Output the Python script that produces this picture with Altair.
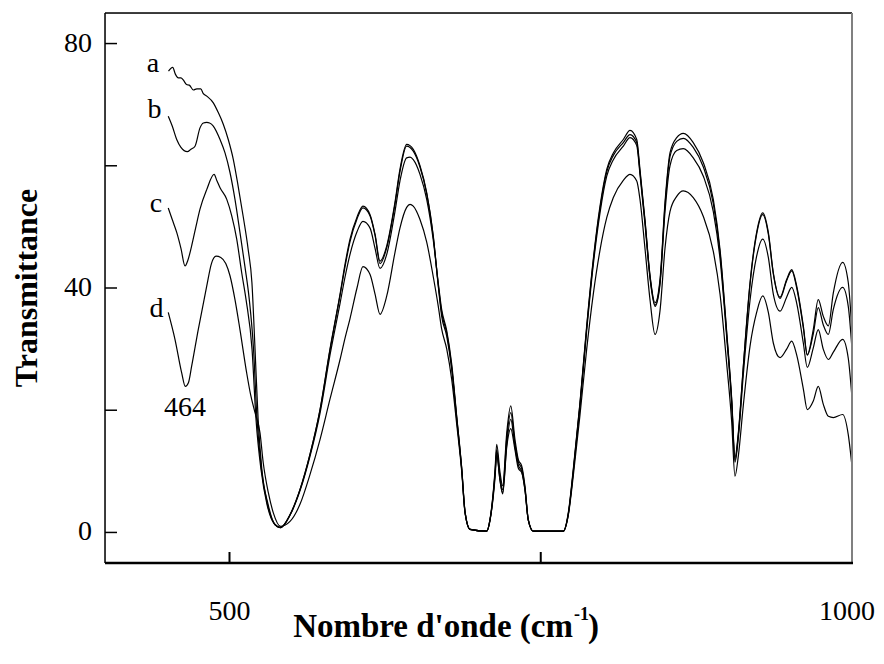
import altair as alt
import pandas as pd

# ---- data ----
series_names = ["a", "b", "c", "d"]

a_left_x = [451, 454.4, 456.5, 458.9, 461, 463, 465.5, 467.7, 471, 473.7, 476.9, 479, 481.7, 487, 491, 495, 499, 503, 507, 511, 515, 518, 520.5, 523, 526, 531, 536.5]
a_left_y = [75.5, 76.1, 75.0, 74.4, 74.4, 74.0, 73.3, 73.2, 72.4, 72.6, 72.6, 71.8, 71.4, 70.3, 68.7, 66.8, 64.3, 61.1, 56.6, 51.7, 46.3, 40.9, 30.0, 18.5, 10.3, 4.6, 1.3]

b_left_x = [450.8, 454, 457.6, 461, 466.1, 469, 472.3, 476.3, 479, 481.7, 484, 487, 492.4, 496.4, 500.4, 504.4, 508.4, 512.4, 515.9, 519.3, 522.1, 525.7, 530.5, 536.5]
b_left_y = [68.1, 66.5, 64.3, 63.0, 62.3, 62.7, 63.2, 66.2, 67.0, 67.1, 67.0, 66.5, 64.3, 62.1, 58.9, 54.5, 49.1, 43.5, 38.1, 30.0, 18.5, 10.3, 4.6, 1.3]

c_left_x = [450.8, 454, 457.6, 461, 464.3, 466.5, 469.6, 473, 476.3, 481.7, 487.6, 490, 492.4, 497.8, 501.8, 505.8, 509.8, 513.3, 518.1, 521.3, 525.3, 530.1, 535.7]
c_left_y = [53.1, 51.2, 49.1, 46.5, 43.6, 44.5, 46.9, 50.0, 52.9, 56.1, 58.6, 57.5, 56.4, 54.5, 51.8, 48.0, 42.5, 38.1, 30.0, 18.5, 10.3, 4.6, 1.5]

d_left_x = [450.8, 456.2, 461.6, 464.5, 467, 469.6, 474.9, 481.7, 485.5, 489.2, 493, 497, 500.4, 504.4, 508.4, 513.8, 517, 520.5, 524.5, 527.1, 531.2, 535.2]
d_left_y = [36.0, 31.6, 26.1, 23.9, 24.5, 27.2, 33.2, 40.3, 44.0, 45.2, 45.0, 44.0, 42.0, 38.1, 33.2, 26.1, 22.5, 19.6, 16.3, 11.4, 6.5, 3.2]

# common wavenumber grid for the rest of the spectrum
common_x = [541, 548.6, 556.6, 564.7, 572.7, 580.7, 588.8, 592.8, 596.8, 602.4, 607.2, 612.9, 616.9, 620.9, 626.3,
            632.9, 636.9, 642.3, 645.0, 647.6, 653.0, 658.4, 663.7, 667.7, 670.4, 674.5, 678.5, 682.5, 686.5, 689.2,
            693.2, 706.6, 709.2, 713.3, 714.6, 717.3, 719.4, 722.7, 725.9, 729.3, 732.0, 734.7, 737.3, 740.0, 744.0,
            768.1, 772.1, 776.1, 781.5, 786.9, 792.2, 797.6, 803.0, 808.3, 816.3, 821.7, 827.1, 829.7, 833.7, 837.8,
            841.8, 845.8, 849.8, 853.8, 859.2, 864.5, 872.5, 880.6, 888.6, 894.0, 899.4, 903.4, 906.0, 908.7, 912.7,
            918.1, 923.4, 928.3, 932.8, 936.8, 942.2, 947.5, 951.6, 955.6, 960.9, 964.1, 968.9, 972.9, 976.9, 981.0,
            985.0, 992.5, 997.0, 1000]

a_right_y = [0.8, 2.9, 7.0, 12.8, 20.1, 30.0, 39.0, 43.9, 48.0, 51.6, 53.4, 52.0, 48.8, 44.4, 46.9,
             54.0, 59.4, 63.5, 63.3, 62.7, 60.0, 55.6, 48.5, 40.3, 35.4, 32.1, 26.7, 18.5, 10.3, 3.2,
             0.5, 0.2, 2.1, 10.3, 14.4, 9.8, 7.6, 16.3, 20.7, 15.2, 11.9, 10.9, 7.6, 2.1, 0.2,
             0.2, 3.2, 10.3, 21.2, 33.8, 44.7, 53.4, 59.4, 62.1, 64.3, 65.8, 64.3, 59.4, 51.2, 42.0,
             37.6, 41.4, 54.0, 62.1, 64.6, 65.3, 63.8, 60.5, 54.5, 46.3, 32.7, 21.8, 12.3, 16.3, 27.2,
             40.9, 49.1, 52.3, 49.1, 42.5, 38.5, 41.4, 43.0, 40.3, 33.8, 29.1, 33.2, 38.1, 35.4, 33.8,
             39.2, 44.2, 40.9, 32.7]
b_right_y = [0.8, 2.9, 7.0, 12.8, 20.0, 29.8, 38.8, 43.5, 47.6, 51.3, 53.1, 51.8, 48.6, 44.0, 46.6,
             53.7, 59.0, 63.2, 63.0, 62.4, 59.8, 55.4, 48.3, 40.5, 36.0, 32.6, 27.0, 18.8, 10.5, 3.3,
             0.5, 0.2, 2.0, 9.8, 13.5, 9.0, 7.0, 15.5, 19.6, 14.5, 11.5, 10.5, 7.3, 2.0, 0.2,
             0.2, 3.0, 10.0, 21.0, 33.5, 44.4, 53.0, 59.0, 61.7, 63.8, 65.1, 63.8, 59.0, 51.0, 41.8,
             37.2, 41.0, 53.5, 61.5, 64.0, 64.5, 63.0, 59.8, 53.8, 45.8, 32.4, 21.5, 11.8, 16.0, 27.0,
             40.6, 48.8, 52.0, 48.8, 42.3, 38.3, 41.2, 42.8, 40.0, 33.5, 29.0, 32.5, 36.8, 34.0, 32.4,
             36.5, 40.1, 37.0, 30.0]
c_right_y = [0.8, 2.8, 6.8, 12.5, 19.5, 29.0, 37.5, 41.8, 45.5, 49.2, 50.9, 49.8, 46.5, 43.2, 45.5,
             52.5, 57.5, 61.3, 61.4, 61.0, 58.6, 54.5, 47.8, 40.8, 36.5, 33.0, 27.5, 19.0, 10.6, 3.4,
             0.5, 0.2, 1.9, 9.5, 13.0, 8.5, 6.5, 14.5, 18.5, 14.0, 11.0, 10.0, 7.0, 2.0, 0.2,
             0.2, 2.9, 9.8, 20.6, 33.0, 43.8, 52.3, 58.3, 61.0, 63.2, 64.6, 63.3, 58.6, 50.5, 41.5,
             37.0, 40.6, 52.5, 60.0, 62.5, 62.8, 61.3, 58.3, 52.5, 44.8, 31.8, 21.0, 11.5, 15.5, 25.8,
             38.0, 45.2, 48.0, 45.0, 39.0, 36.2, 38.5, 40.1, 37.5, 31.0, 27.0, 30.2, 33.2, 30.0, 28.3,
             29.5, 31.6, 28.5, 22.0]
d_right_y = [1.0, 1.8, 4.6, 9.5, 15.2, 21.8, 28.3, 31.8, 35.0, 40.0, 43.5, 42.2, 39.0, 35.7, 38.7,
             45.8, 49.8, 53.2, 53.7, 53.4, 51.2, 47.5, 41.8, 37.0, 33.3, 30.0, 25.0, 17.7, 10.0, 3.2,
             0.5, 0.2, 2.0, 9.0, 12.6, 8.5, 6.3, 14.0, 17.0, 13.5, 10.5, 9.8, 7.0, 2.0, 0.2,
             0.2, 2.8, 9.2, 19.2, 30.0, 39.0, 46.2, 51.5, 54.8, 57.6, 58.6, 57.5, 54.5, 46.5, 38.0,
             32.4, 36.3, 46.5, 52.5, 55.0, 55.9, 54.8, 51.7, 46.0, 39.0, 27.5, 18.0, 9.2, 12.5, 20.8,
             30.5, 36.0, 38.7, 36.0, 31.0, 28.6, 30.0, 31.3, 29.0, 23.5, 20.1, 21.5, 23.9, 21.0, 19.0,
             18.8, 19.3, 16.0, 10.8]

label_text = ["a", "b", "c", "d", "464"]
label_x = [438.6, 439.8, 441.0, 441.4, 464.3]
label_y = [75.4, 67.9, 52.4, 35.2, 19.0]

y_tick_values = [0, 20, 40, 60, 80]
y_label_values = [0, 40, 80]
x_tick_values = [500, 750, 1000]
x_label_first = [500]
x_label_last = [1000]

# ---- build table ----
rows = []
lefts = {"a": (a_left_x, a_left_y), "b": (b_left_x, b_left_y),
         "c": (c_left_x, c_left_y), "d": (d_left_x, d_left_y)}
rights = {"a": a_right_y, "b": b_right_y, "c": c_right_y, "d": d_right_y}
for s in series_names:
    xs = list(lefts[s][0]) + list(common_x)
    ys = list(lefts[s][1]) + list(rights[s])
    for i, (xv, yv) in enumerate(zip(xs, ys)):
        rows.append({"series": s, "idx": i, "wn": xv, "T": yv})
df = pd.DataFrame(rows)

SERIF = "Liberation Serif"
W, H = 747, 550
xscale = alt.Scale(domain=[400, 1000], nice=False, zero=False)
yscale = alt.Scale(domain=[-5, 85], nice=False, zero=False)

lines = alt.Chart(df).mark_line(interpolate="monotone", color="black", strokeWidth=1.2).encode(
    x=alt.X("wn:Q", scale=xscale, axis=None),
    y=alt.Y("T:Q", scale=yscale, axis=None),
    detail="series:N",
    order="idx:Q",
)

ytick = alt.Chart(pd.DataFrame({"v": y_tick_values})).mark_rule(color="black", strokeWidth=1.5).encode(
    y=alt.Y("v:Q", scale=yscale, axis=None), x=alt.value(0), x2=alt.value(12))
xtick = alt.Chart(pd.DataFrame({"v": x_tick_values})).mark_rule(color="black", strokeWidth=2).encode(
    x=alt.X("v:Q", scale=xscale, axis=None), y=alt.value(H), y2=alt.value(H - 11))

ylab = alt.Chart(pd.DataFrame({"v": y_label_values})).mark_text(
    font=SERIF, fontSize=28, color="black", align="right", baseline="middle").encode(
    y=alt.Y("v:Q", scale=yscale, axis=None), x=alt.value(-13), text=alt.Text("v:Q", format="d"))
xlab1 = alt.Chart(pd.DataFrame({"v": x_label_first})).mark_text(
    font=SERIF, fontSize=28, color="black", align="center", baseline="alphabetic").encode(
    x=alt.X("v:Q", scale=xscale, axis=None), y=alt.value(607), text=alt.Text("v:Q", format="d"))
xlab2 = alt.Chart(pd.DataFrame({"v": x_label_last})).mark_text(
    font=SERIF, fontSize=28, color="black", align="center", baseline="alphabetic", dx=-5).encode(
    x=alt.X("v:Q", scale=xscale, axis=None), y=alt.value(607), text=alt.Text("v:Q", format="d"))

one = pd.DataFrame({"k": [0]})
top_border = alt.Chart(one).mark_rule(color="black", strokeWidth=1.5).encode(
    x=alt.value(0), x2=alt.value(W), y=alt.value(0))
right_border = alt.Chart(one).mark_rule(color="#808080", strokeWidth=2).encode(
    x=alt.value(W), y=alt.value(0), y2=alt.value(H))
left_border = alt.Chart(one).mark_rule(color="black", strokeWidth=1.5).encode(
    x=alt.value(0), y=alt.value(0), y2=alt.value(H))
bottom_border = alt.Chart(one).mark_rule(color="black", strokeWidth=2.5).encode(
    x=alt.value(0), x2=alt.value(W + 1), y=alt.value(H))

labels = alt.Chart(pd.DataFrame({"t": label_text, "x": label_x, "y": label_y})).mark_text(
    font=SERIF, fontSize=28, color="black", align="center", baseline="alphabetic").encode(
    x=alt.X("x:Q", scale=xscale, axis=None), y=alt.Y("y:Q", scale=yscale, axis=None), text="t:N")

ytitle = alt.Chart(pd.DataFrame({"t": ["Transmittance"]})).mark_text(
    font=SERIF, fontSize=32, fontWeight="bold", color="black", angle=270,
    align="center", baseline="middle").encode(
    text="t:N", x=alt.value(-78), y=alt.value(275))

xt1 = alt.Chart(pd.DataFrame({"t": ["Nombre d'onde (cm"]})).mark_text(
    font=SERIF, fontSize=33, fontWeight="bold", color="black", align="right",
    baseline="alphabetic").encode(text="t:N", x=alt.value(468), y=alt.value(624))
xt2 = alt.Chart(pd.DataFrame({"t": ["-1"]})).mark_text(
    font=SERIF, fontSize=18, fontWeight="bold", color="black", align="left",
    baseline="alphabetic").encode(text="t:N", x=alt.value(469), y=alt.value(607))
xt3 = alt.Chart(pd.DataFrame({"t": [")"]})).mark_text(
    font=SERIF, fontSize=33, fontWeight="bold", color="black", align="left",
    baseline="alphabetic").encode(text="t:N", x=alt.value(483), y=alt.value(624))

chart = alt.layer(lines, ytick, xtick, ylab, xlab1, xlab2, top_border, right_border, left_border,
                  bottom_border, labels, ytitle, xt1, xt2, xt3).properties(
    width=W, height=H,
    autosize=alt.AutoSizeParams(type="none"),
    padding={"left": 97, "top": 5, "right": 24, "bottom": 93},
).configure_view(stroke=None).configure(background="white")

chart.save("out.html", embed_options={"renderer": "svg", "actions": False})
